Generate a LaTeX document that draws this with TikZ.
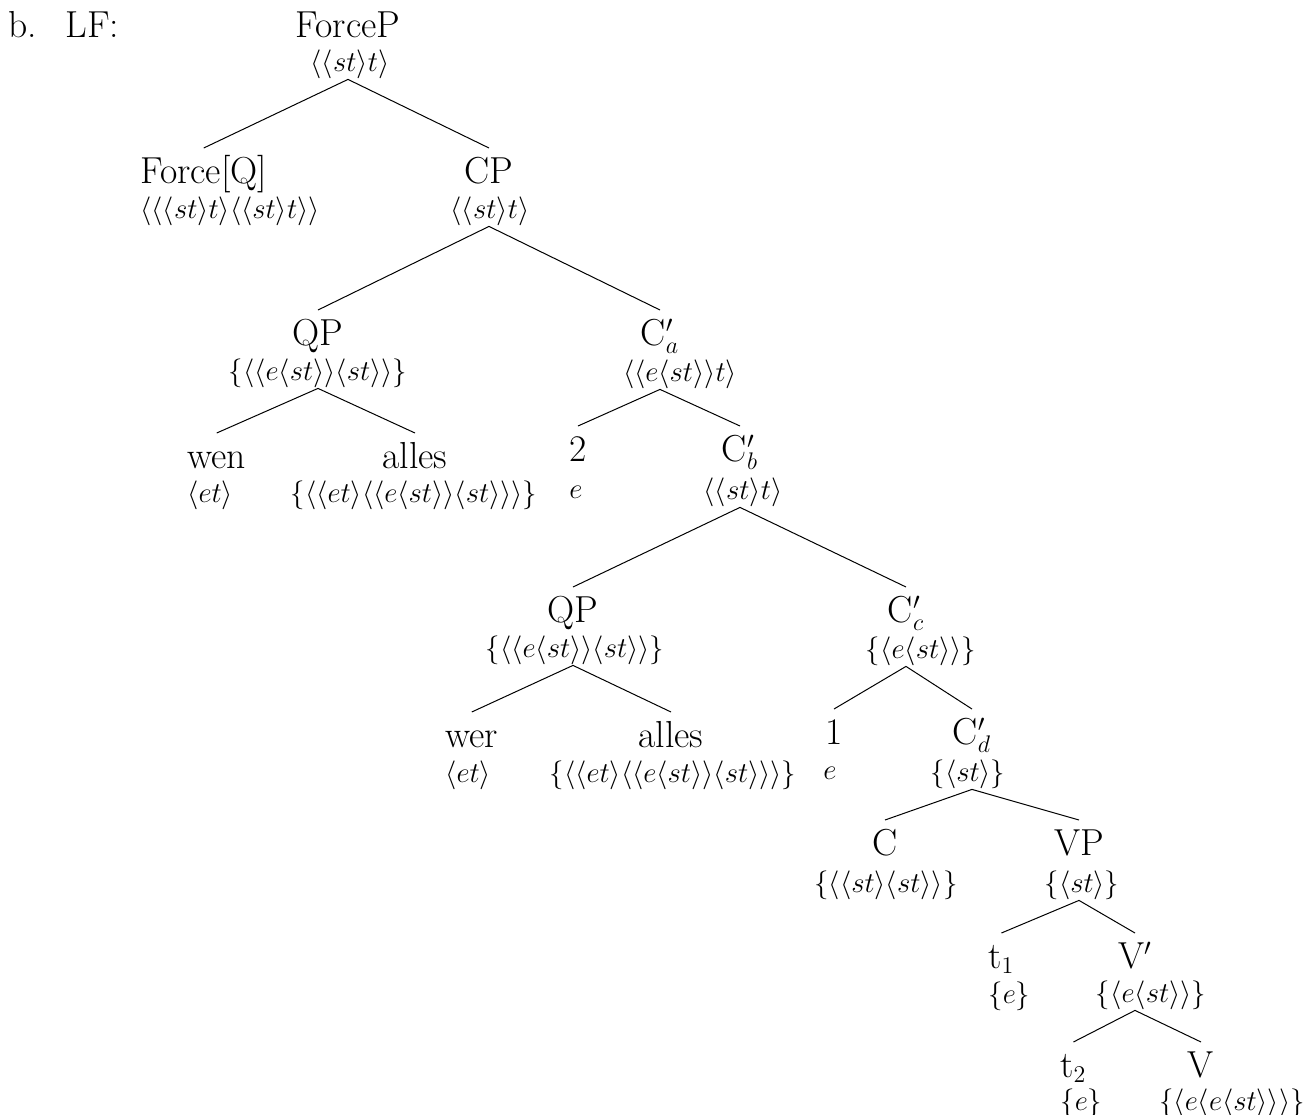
\documentclass[tikz,border=0pt]{standalone}
\usepackage{tikz}
\usetikzlibrary{positioning}

\begin{document}
\begin{tikzpicture}[x=0.5pt, y=-0.5pt,
    cat/.style={font=\fontsize{18.8}{22}\selectfont, inner sep=0pt,
                text height=12.8pt, text depth=0pt, anchor=base},
    typ/.style={font=\fontsize{13.6}{16}\selectfont, inner sep=0pt,
                text depth=4pt, anchor=base},
    br/.style={line width=0.5pt},
  ]
  \useasboundingbox (0,0) rectangle (1314,1115);

  % example label
  \node[cat, anchor=base west] (ex) at (8,37) {b.};
  \node[cat, anchor=base west] (lf) at (65,37) {LF:};

  % root
  \node[cat] (FP) at (348,37) {ForceP};
  \node[typ] (tFP) at (350,71) {$\langle\langle st\rangle t\rangle$};

  % Force head and CP
  \node[cat, anchor=base west] (FQ) at (140,183) {Force[Q]};
  \node[typ, anchor=base west] (tFQ) at (140,218) {$\langle\langle\langle st\rangle t\rangle\langle\langle st\rangle t\rangle\rangle$};
  \node[cat] (CP) at (489,183) {CP};
  \node[typ] (tCP) at (490,218) {$\langle\langle st\rangle t\rangle$};

  % first QP and C'a
  \node[cat] (QPa) at (318,345) {QP};
  \node[typ] (tQPa) at (318,380) {$\{\langle\langle e\langle st\rangle\rangle\langle st\rangle\rangle\}$};
  \node[cat] (Ca) at (660,345) {C$'_a$};
  \node[typ] (tCa) at (680,381) {$\langle\langle e\langle st\rangle\rangle t\rangle$};

  \node[cat, anchor=base west] (wen) at (187,468) {wen};
  \node[typ, anchor=base west] (twen) at (187,502) {$\langle et\rangle$};
  \node[cat] (allesa) at (415,468) {alles};
  \node[typ] (tallesa) at (414,502) {$\{\langle\langle et\rangle\langle\langle e\langle st\rangle\rangle\langle st\rangle\rangle\rangle\}$};
  \node[cat] (two) at (578,461) {2};
  \node[typ] (ttwo) at (576,498) {$e$};
  \node[cat] (Cb) at (740,461) {C$'_b$};
  \node[typ] (tCb) at (743,499) {$\langle\langle st\rangle t\rangle$};

  % second QP and C'c
  \node[cat] (QPb) at (573,622) {QP};
  \node[typ] (tQPb) at (575,657) {$\{\langle\langle e\langle st\rangle\rangle\langle st\rangle\rangle\}$};
  \node[cat] (Cc) at (906,622) {C$'_c$};
  \node[typ] (tCc) at (921,658) {$\{\langle e\langle st\rangle\rangle\}$};

  \node[cat, anchor=base west] (wer) at (445,747) {wer};
  \node[typ, anchor=base west] (twer) at (445,782) {$\langle et\rangle$};
  \node[cat] (allesb) at (671,747) {alles};
  \node[typ] (tallesb) at (673,782) {$\{\langle\langle et\rangle\langle\langle e\langle st\rangle\rangle\langle st\rangle\rangle\rangle\}$};
  \node[cat] (one) at (834,744) {1};
  \node[typ] (tone) at (830,779) {$e$};
  \node[cat] (Cd) at (972,744) {C$'_d$};
  \node[typ] (tCd) at (968,781) {$\{\langle st\rangle\}$};

  % C and VP
  \node[cat] (C) at (885,855) {C};
  \node[typ] (tC) at (886,892) {$\{\langle\langle st\rangle\langle st\rangle\rangle\}$};
  \node[cat] (VP) at (1079,855) {VP};
  \node[typ] (tVP) at (1082,892) {$\{\langle st\rangle\}$};

  \node[cat, anchor=base west] (ta) at (988,968) {t$_1$};
  \node[typ, anchor=base west] (tta) at (988,1003) {$\{e\}$};
  \node[cat] (Vbar) at (1135,968) {V$'$};
  \node[typ] (tVbar) at (1151,1002) {$\{\langle e\langle st\rangle\rangle\}$};

  \node[cat, anchor=base west] (tb) at (1060,1077) {t$_2$};
  \node[typ, anchor=base west] (ttb) at (1060,1110) {$\{e\}$};
  \node[cat] (V) at (1201,1077) {V};
  \node[typ] (tV) at (1232,1110) {$\{\langle e\langle e\langle st\rangle\rangle\rangle\}$};

  % branches, from below the parent's type to just above the daughter
  \foreach \p/\c in {FP/FQ, FP/CP, CP/QPa, CP/Ca, QPa/wen, QPa/allesa,
                     Ca/two, Ca/Cb, Cb/QPb, Cb/Cc, QPb/wer, QPb/allesb,
                     Cc/one, Cc/Cd, Cd/C, Cd/VP, VP/ta, VP/Vbar, Vbar/tb, Vbar/V}
    \draw[br] (\p |- t\p.south) -- ([yshift=4.5pt]\c.north);
\end{tikzpicture}
\end{document}
